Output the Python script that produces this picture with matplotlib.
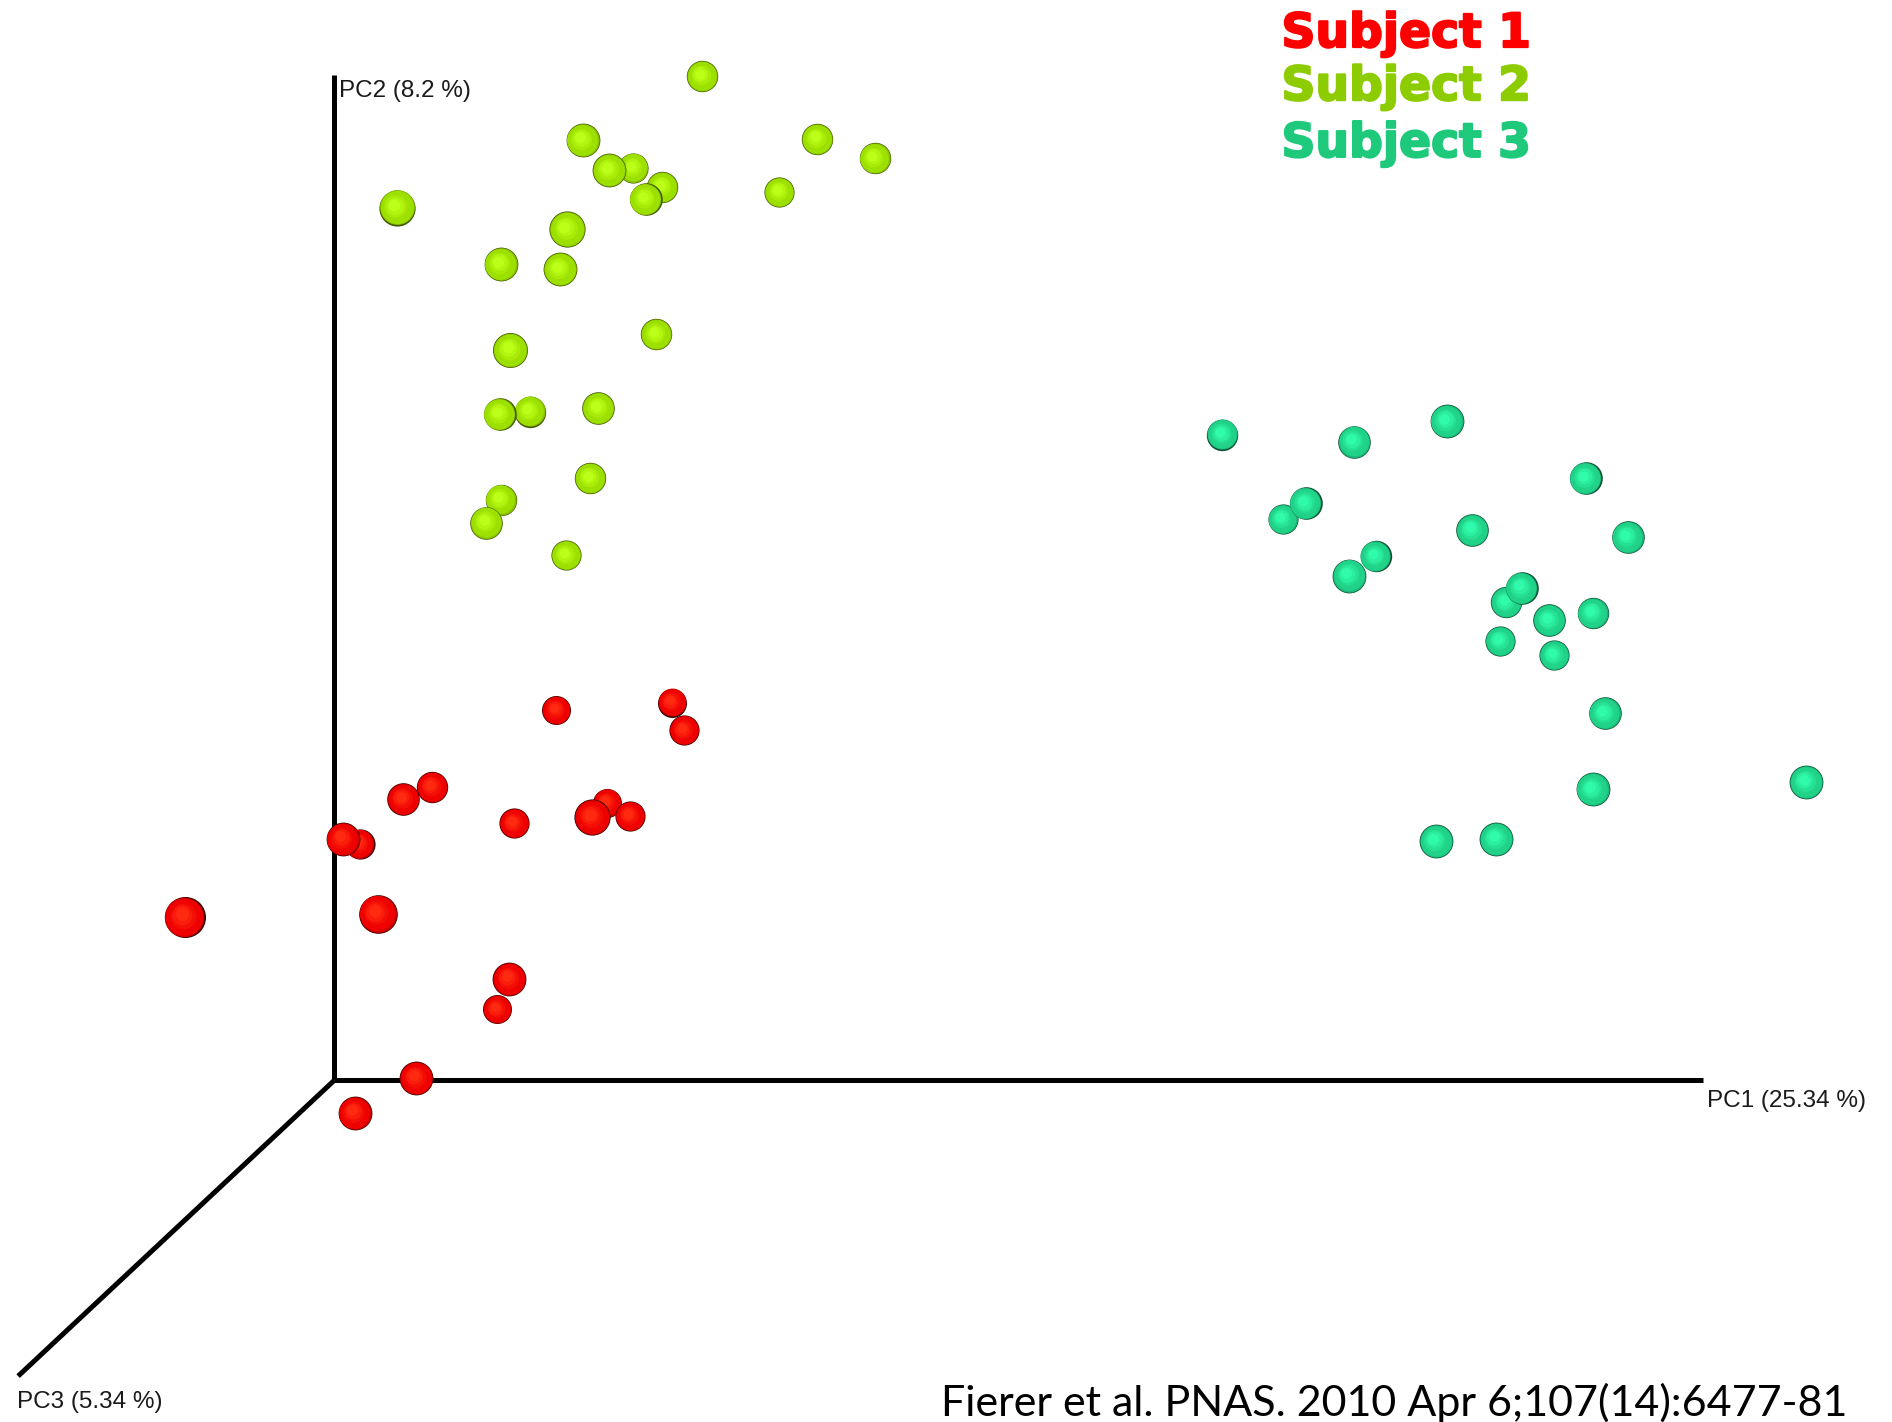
import numpy as np
import matplotlib.pyplot as plt
import matplotlib.patheffects as pe
from matplotlib.colors import to_rgb

# PCoA scores as projected on screen (arbitrary units, y grows downward), with sphere radius
s1_x = [461, 557, 567, 358, 334, 503, 426, 491, 522, 298, 284, 153, 313, 412, 422, 345, 294]
s1_y = [588, 582, 605, 652, 662, 665, 682, 677, 676, 699, 695, 760, 757, 836, 811, 893, 922]
s1_r = [12, 12, 12.5, 13, 13.5, 12, 12.5, 15, 12.5, 12.5, 14, 17, 16, 12, 14, 14, 14]

s2_x = [582, 483, 525, 505, 549, 535, 677, 725, 646, 329, 470, 415, 464, 544, 423,
        439, 414, 496, 489, 415, 403, 469]
s2_y = [63, 116, 139, 141, 155, 165, 115, 131, 159, 172, 190, 219, 223, 277, 290,
        341, 343, 338, 396, 414, 433, 460]
s2_r = [13, 14, 12.5, 14, 13, 13.5, 13, 13, 12.5, 15, 15, 14, 14, 13, 14.5,
        13, 13.5, 13.5, 13, 13, 13.5, 12.5]

s3_x = [1013, 1122, 1199, 1314, 1063, 1082, 1220, 1349, 1140, 1118, 1248, 1261,
        1284, 1320, 1243, 1288, 1330, 1497, 1320, 1190, 1240]
s3_y = [360, 366, 349, 396, 430, 417, 439, 445, 461, 477, 499, 487,
        514, 508, 531, 543, 591, 648, 654, 697, 695]
s3_r = [13, 13.5, 14, 13.5, 12.5, 13.5, 13.5, 13.5, 13, 14, 13, 13.5,
        13.5, 13, 12.5, 12.5, 13.5, 14, 14, 14, 14]

subjects = ['Subject 1', 'Subject 2', 'Subject 3']
text_colors = ['#ff0000', '#8ccc00', '#1ec97c']
# rim, body, highlight
sphere_colors = [
    ('#400000', '#ee0000', '#ff2a10'),
    ('#445a00', '#9ce000', '#bcff18'),
    ('#0e5034', '#20d288', '#30fbaa'),
]

axis_labels = ['PC1 (25.34 %)', 'PC2 (8.2 %)', 'PC3 (5.34 %)']
citation = 'Fierer et al. PNAS. 2010 Apr 6;107(14):6477-81'

W, H = 1568, 1178          # working units = downscaled screen pixels
scale = 1892 / W           # working unit -> output pixel
dpi = 100

fig = plt.figure(figsize=(18.92, 14.22), dpi=dpi)
ax = fig.add_axes([0, 0, 1, 1])
ax.set_xlim(0, W)
ax.set_ylim(H, 0)
ax.axis('off')

# 3D axes frame
origin = (277, 895)
ax.plot([origin[0], 1411], [origin[1], origin[1]], color='black', lw=3.6, solid_capstyle='butt', zorder=1)
ax.plot([origin[0], origin[0]], [origin[1], 62], color='black', lw=3.6, solid_capstyle='butt', zorder=1)
ax.plot([origin[0], 15], [origin[1], 1140], color='black', lw=3.6, solid_capstyle='butt', zorder=1)

lab_kw = dict(family='Liberation Sans', fontsize=17.5, color='#1a1a1a', va='baseline', ha='left')
ax.text(1415, 917, axis_labels[0], **lab_kw)
ax.text(281, 80, axis_labels[1], **lab_kw)
ax.text(14, 1166, axis_labels[2], **lab_kw)


def ramp(rim, body, light, t):
    stops = [0.0, 0.18, 0.55, 1.0]
    cols = np.array([to_rgb(rim), to_rgb(body), to_rgb(body), to_rgb(light)])
    return tuple(np.interp(t, stops, cols[:, k]) for k in range(3))


fracs = np.array([1.0, 0.96, 0.91, 0.84, 0.74, 0.62, 0.48, 0.32])
tvals = np.linspace(0, 1, len(fracs))


def sphere(x, y, r, cols, z):
    for i, (f, t) in enumerate(zip(fracs, tvals)):
        d_pt = 2 * r * f * scale * 72 / dpi
        off = (1 - f) * r * 0.22
        ax.scatter([x - off], [y - off], s=d_pt ** 2, color=[ramp(*cols, t)],
                   linewidths=0, zorder=z + i * 0.01)


series = [(s1_x, s1_y, s1_r), (s2_x, s2_y, s2_r), (s3_x, s3_y, s3_r)]
z = 2
for (xs, ys, rs), cols in zip(series, sphere_colors):
    for x, y, r in zip(xs, ys, rs):
        sphere(x, y, r, cols, z)
        z += 0.1

# legend text
leg_y = [39, 83, 130]
for name, c, y in zip(subjects, text_colors, leg_y):
    ax.text(1062, y, name, family='DejaVu Sans', fontweight='bold', fontsize=34,
            color=c, va='baseline', ha='left', zorder=20,
            path_effects=[pe.withStroke(linewidth=1.5, foreground=c)])

# citation, fitted to the reference width
cit = ax.text(780, 1173, citation, family='Lato', fontsize=30, color='black',
              va='baseline', ha='left', zorder=20)
fig.canvas.draw()
w = cit.get_window_extent().width
cit.set_fontsize(30 * (752 * scale) / w)

fig.savefig('out.png', dpi=dpi, facecolor='white')
